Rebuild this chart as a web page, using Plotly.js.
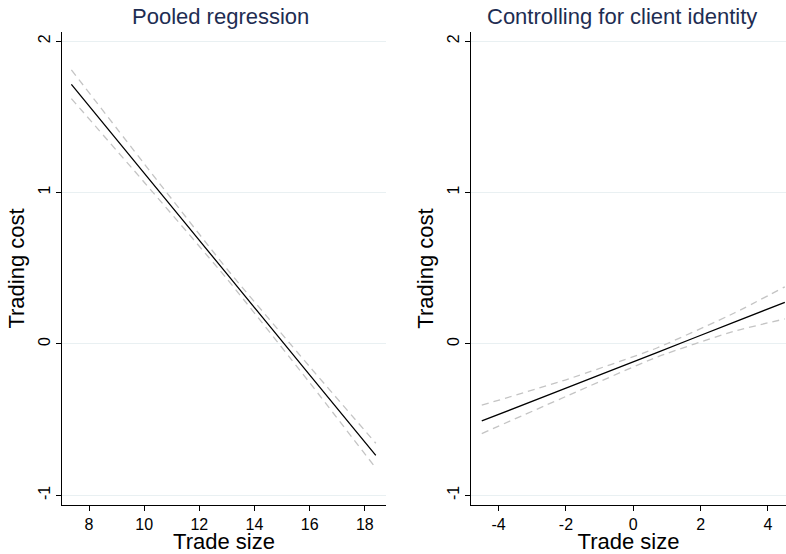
<!DOCTYPE html>
<html>
<head>
<meta charset="utf-8">
<script src="https://cdn.plot.ly/plotly-3.0.1.min.js"></script>
<style>html,body{margin:0;padding:0;background:#fff;}#chart{width:786px;height:554px;}</style>
</head>
<body>
<div id="chart"></div>
<script>
// Left panel: Pooled regression
var pooledX     = [7.36, 10, 13, 16, 18.4];
var pooledFit   = [1.714, 1.128, 0.462, -0.204, -0.736];
var pooledUpper = [1.81, 1.19, 0.495, -0.15, -0.656];
var pooledLower = [1.62, 1.068, 0.43, -0.256, -0.82];

// Right panel: Controlling for client identity
var clientX     = [-4.5, -2, 0.7, 3, 4.5];
var clientFit   = [-0.509, -0.292, -0.057, 0.144, 0.274];
var clientUpper = [-0.405, -0.237, -0.027, 0.204, 0.377];
var clientLower = [-0.592, -0.347, -0.087, 0.084, 0.165];

var panelTitles = ["Pooled regression", "Controlling for client identity"];
var xTitle = "Trade size";
var yTitle = "Trading cost";
var yTickVals = [-1, 0, 1, 2];
var yTickText = ["-1", "0", "1", "2"];
var leftXTicks = [8, 10, 12, 14, 16, 18];
var leftXText = ["8", "10", "12", "14", "16", "18"];
var rightXTicks = [-4, -2, 0, 2, 4];
var rightXText = ["-4", "-2", "0", "2", "4"];

var fitLine = {color: "#000000", width: 1.3};
var ciLine = {color: "#c4c4c4", width: 1.3, dash: "7px,5px"};

function tr(x, y, xa, ya, line) {
  return {x: x, y: y, xaxis: xa, yaxis: ya, type: "scatter", mode: "lines",
          line: Object.assign({shape: "spline", smoothing: 0.5}, line), hoverinfo: "skip", showlegend: false};
}

var data = [
  tr(pooledX, pooledUpper, "x", "y", ciLine),
  tr(pooledX, pooledLower, "x", "y", ciLine),
  tr(pooledX, pooledFit, "x", "y", fitLine),
  tr(clientX, clientUpper, "x2", "y2", ciLine),
  tr(clientX, clientLower, "x2", "y2", ciLine),
  tr(clientX, clientFit, "x2", "y2", fitLine)
];

var W = 786, H = 554;
var fam = "Liberation Sans, Arial, sans-serif";
var font = {family: fam, color: "#000"};

function xax(dom, range, ticks, text) {
  return {domain: dom, range: range, tickmode: "array", tickvals: ticks, ticktext: text,
    ticks: "outside", ticklen: 5, tickwidth: 1, tickcolor: "#000",
    showline: true, linecolor: "#000", linewidth: 1, showgrid: false, zeroline: false,
    tickfont: {size: 16, family: fam, color: "#000"},
    title: {text: xTitle, font: {size: 22, family: fam, color: "#000"}, standoff: 3},
    automargin: false, fixedrange: true};
}
function yax(anchor, range) {
  return {domain: [0, 1], range: range, anchor: anchor, tickmode: "array", tickvals: yTickVals,
    ticktext: yTickText, tickangle: -90,
    ticks: "outside", ticklen: 5, tickwidth: 1, tickcolor: "#000",
    showline: true, linecolor: "#000", linewidth: 1,
    showgrid: true, gridcolor: "#e9f0f2", gridwidth: 1, zeroline: false,
    tickfont: {size: 16, family: fam, color: "#000"},
    title: {text: yTitle, font: {size: 22, family: fam, color: "#000"}, standoff: 4},
    automargin: false, fixedrange: true};
}

var layout = {
  width: W, height: H,
  margin: {l: 0, r: 0, t: 32, b: 49, pad: 0},
  paper_bgcolor: "#fff", plot_bgcolor: "#fff",
  font: font,
  showlegend: false,
  xaxis: xax([62 / W, 386 / W], [7.02, 18.77], leftXTicks, leftXText),
  yaxis: yax("x", [-1.064, 2.06]),
  xaxis2: xax([471 / W, 1], [-4.82, 4.535], rightXTicks, rightXText),
  yaxis2: yax("x2", [-1.064, 2.06]),
  annotations: [
    {text: panelTitles[0], xref: "paper", yref: "paper", x: 220 / W, y: 1 + 16 / (H - 81),
     yanchor: "middle", xanchor: "center", showarrow: false,
     font: {size: 22, family: fam, color: "#1e2d52"}},
    {text: panelTitles[1], xref: "paper", yref: "paper", x: 622 / W, y: 1 + 16 / (H - 81),
     yanchor: "middle", xanchor: "center", showarrow: false,
     font: {size: 22, family: fam, color: "#1e2d52"}}
  ]
};

Plotly.newPlot("chart", data, layout, {staticPlot: true, displayModeBar: false});
</script>
</body>
</html>
